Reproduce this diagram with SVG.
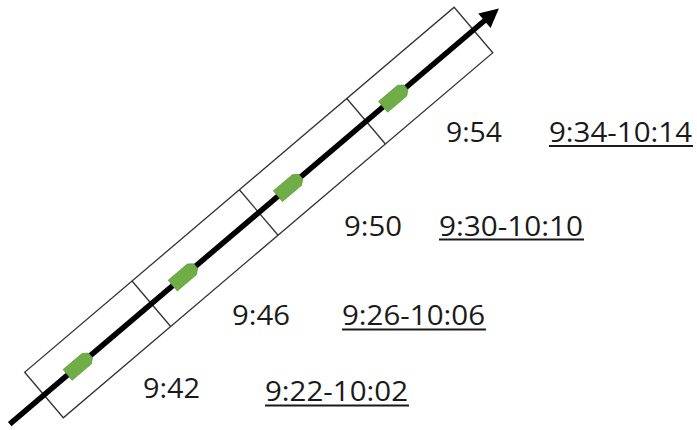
<svg xmlns="http://www.w3.org/2000/svg" width="697" height="430" viewBox="0 0 697 430">
<style>
.frame{fill:none;stroke:#333;stroke-width:1.3}
.div{stroke:#333;stroke-width:1.3}
.axis{stroke:#000;stroke-width:5.5;fill:none}
.mk{fill:#70AD47;stroke:#62A03C;stroke-width:0.8}
text{font-family:"Open Sans","Liberation Sans",sans-serif;font-size:28px;fill:#1a1a1a}
.ul{stroke:#1a1a1a;stroke-width:1.8}
</style>
<defs>
<path id="m" d="M-15,-7 L10,-7 L15,-3 L15,3 L10,7 L-15,7 Z"/>
</defs>
<rect width="697" height="430" fill="#fff"/>
<g id="track" transform="translate(44,395) rotate(-40.36)">
<rect class="frame" x="0" y="-29.85" width="563.6" height="59.7"/>
<line class="div" x1="140.9" y1="-29.85" x2="140.9" y2="29.85"/>
<line class="div" x1="281.8" y1="-29.85" x2="281.8" y2="29.85"/>
<line class="div" x1="422.7" y1="-29.85" x2="422.7" y2="29.85"/>
</g>
<g id="connectors" transform="translate(44,395) rotate(-40.36)">
<line class="axis" x1="-45" y1="0" x2="581" y2="0"/>
<path d="M597,0 L578,-9.5 L578,9.5 Z" fill="#000"/>
</g>
<g id="markers" transform="translate(44,395) rotate(-40.36)">
<use href="#m" class="mk" x="46"/>
<use href="#m" class="mk" x="184"/>
<use href="#m" class="mk" x="322"/>
<use href="#m" class="mk" x="460"/>
</g>
<g id="label-942"><text x="143" y="398" textLength="57" lengthAdjust="spacingAndGlyphs">9:42</text></g>
<g id="label-946"><text x="232" y="325" textLength="58" lengthAdjust="spacingAndGlyphs">9:46</text></g>
<g id="label-950"><text x="344" y="236" textLength="58" lengthAdjust="spacingAndGlyphs">9:50</text></g>
<g id="label-954"><text x="446" y="142" textLength="56" lengthAdjust="spacingAndGlyphs">9:54</text></g>
<g id="range-1"><text x="265" y="401" textLength="143" lengthAdjust="spacingAndGlyphs">9:22-10:02</text><line class="ul" x1="265" y1="405.5" x2="409" y2="405.5"/></g>
<g id="range-2"><text x="342" y="325" textLength="143" lengthAdjust="spacingAndGlyphs">9:26-10:06</text><line class="ul" x1="342" y1="329.5" x2="486" y2="329.5"/></g>
<g id="range-3"><text x="439" y="236" textLength="144" lengthAdjust="spacingAndGlyphs">9:30-10:10</text><line class="ul" x1="439" y1="239.5" x2="584" y2="239.5"/></g>
<g id="range-4"><text x="549" y="142" textLength="143" lengthAdjust="spacingAndGlyphs">9:34-10:14</text><line class="ul" x1="549" y1="146" x2="693" y2="146"/></g>
</svg>
